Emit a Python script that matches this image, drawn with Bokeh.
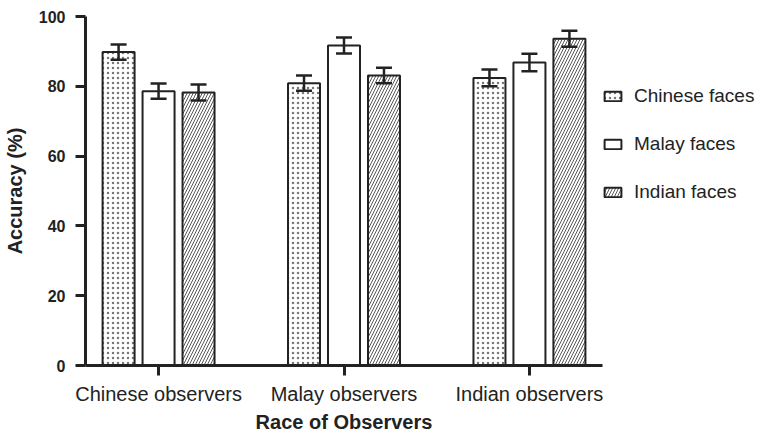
from bokeh.plotting import figure
from bokeh.models import (ColumnDataSource, FixedTicker, Range1d, Whisker, TeeHead,
                          Legend, LegendItem)
from bokeh.embed import file_html
from bokeh.resources import INLINE

observers = ["Chinese observers", "Malay observers", "Indian observers"]
series = ["Chinese faces", "Malay faces", "Indian faces"]
chinese_faces = [89.8, 80.9, 82.4]
malay_faces = [78.6, 91.7, 86.8]
indian_faces = [78.2, 83.1, 93.6]
chinese_err = [2.2, 2.2, 2.4]
malay_err = [2.2, 2.3, 2.5]
indian_err = [2.3, 2.2, 2.3]
y_ticks = [0, 20, 40, 60, 80, 100]

FONT = "Liberation Sans"

p = figure(frame_width=517, frame_height=349, min_border_left=75, min_border_right=153,
           min_border_top=16, min_border_bottom=57, output_backend="svg",
           toolbar_location=None, x_range=Range1d(-0.394, 2.394), y_range=Range1d(0, 100))
p.outline_line_color = None
p.grid.visible = False
p.background_fill_color = "white"

offsets = [-0.2156, 0.0, 0.2156]
width = 0.1726
vals = [chinese_faces, malay_faces, indian_faces]
errs = [chinese_err, malay_err, indian_err]
hatches = [dict(hatch_pattern="dot", hatch_scale=5, hatch_weight=1, hatch_color="#777777"),
           dict(hatch_pattern=" "),
           dict(hatch_pattern="right_diagonal_line", hatch_scale=6, hatch_weight=0.9, hatch_color="#444444")]

items = []
for k in range(3):
    xs = [i + offsets[k] for i in range(3)]
    src = ColumnDataSource(dict(x=xs, top=vals[k],
                                lo=[v - e for v, e in zip(vals[k], errs[k])],
                                hi=[v + e for v, e in zip(vals[k], errs[k])]))
    r = p.vbar(x="x", top="top", width=width, bottom=0, source=src, fill_color="white",
               line_color="#222222", line_width=2, **hatches[k])
    w = Whisker(base="x", lower="lo", upper="hi", source=src, line_color="#222222", line_width=2.5,
                upper_head=TeeHead(size=16, line_width=2.5, line_color="#222222"),
                lower_head=TeeHead(size=16, line_width=2.5, line_color="#222222"),
                level="overlay")
    p.add_layout(w)
    items.append(LegendItem(label=series[k], renderers=[r]))

legend = Legend(items=items, location=(0, 162), border_line_color=None,
                background_fill_alpha=0, padding=0, margin=0, glyph_width=21, glyph_height=12,
                label_standoff=11, spacing=26, label_height=20,
                label_text_font=FONT, label_text_font_size="19px", label_text_color="#222222")
p.add_layout(legend, "right")

for ax in (p.xaxis[0], p.yaxis[0]):
    ax.axis_line_width = 3
    ax.axis_line_color = "#222222"
    ax.major_tick_line_width = 3
    ax.major_tick_line_color = "#222222"
    ax.major_tick_out = 10
    ax.major_tick_in = 0
    ax.minor_tick_line_color = None
    ax.axis_label_text_font = FONT
    ax.axis_label_text_font_style = "bold"
    ax.axis_label_text_font_size = "20px"
    ax.axis_label_text_color = "#222222"
    ax.major_label_text_font = FONT

p.xaxis.ticker = FixedTicker(ticks=[0, 1, 2])
p.xaxis.major_label_overrides = {i: observers[i] for i in range(3)}
p.xaxis.major_label_text_font_size = "20px"
p.xaxis.major_label_text_color = "#222222"
p.xaxis.major_label_standoff = 7
p.xaxis.axis_label = "Race of Observers"
p.xaxis.axis_label_standoff = 3

p.yaxis.ticker = FixedTicker(ticks=y_ticks)
p.yaxis.major_label_text_font_size = "16px"
p.yaxis.major_label_text_font_style = "bold"
p.yaxis.major_label_text_color = "#222222"
p.yaxis.major_label_standoff = 10
p.yaxis.axis_label = "Accuracy (%)"
p.yaxis.axis_label_standoff = 10

open("out.html", "w").write(file_html(p, INLINE))
